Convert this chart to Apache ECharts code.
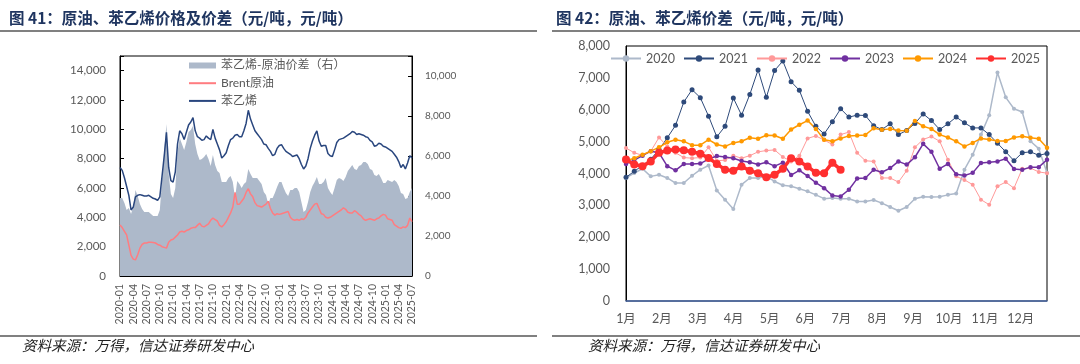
<!DOCTYPE html>
<html><head><meta charset="utf-8">
<script src="https://cdn.jsdelivr.net/npm/echarts@6/dist/echarts.min.js"></script>
<style>html,body{margin:0;padding:0;background:#fff}#c{width:1080px;height:364px}</style>
</head><body><div id="c"></div>
<script>
// ---------- Left chart (图41) : semi-monthly samples 2020-01 .. 2025-07 ----------
const leftTickLabels = ['2020-01','2020-04','2020-07','2020-10','2021-01','2021-04','2021-07','2021-10',
  '2022-01','2022-04','2022-07','2022-10','2023-01','2023-04','2023-07','2023-10',
  '2024-01','2024-04','2024-07','2024-10','2025-01','2025-04','2025-07'];
const styrene = [7400,7200,6700,6100,5500,4500,4700,5400,5500,5550,5500,5450,5450,5500,5400,5300,5250,5150,5400,6800,
  8200,9800,7400,6500,6400,7100,9000,9900,9700,9300,9800,10300,10500,10800,9900,9500,9400,9250,9300,9550,
  9400,9300,10000,9400,9000,8600,8050,8200,8400,8900,9300,9400,9600,9650,9500,9500,9900,10400,11300,10700,
  10300,9900,9700,9500,9300,9000,8950,8700,8500,8200,8300,8700,8900,8950,8700,8500,8400,8300,8150,8200,
  8250,8000,7600,7300,7500,8000,8700,9200,9600,9900,9200,8850,8900,8900,8350,8200,8150,8600,9100,9300,
  9350,9400,9500,9600,9700,9850,9800,9650,9700,9650,9600,9500,9450,9250,9150,8850,8900,9050,9000,8850,
  8800,8700,8600,8500,8300,8100,7800,7400,7600,7300,7700,8200,8050];
const brent = [3480,3300,3050,2800,2100,1400,1150,1100,1450,1900,2150,2250,2250,2300,2300,2280,2250,2150,2100,2000,
  1950,1900,2300,2450,2500,2650,2800,3000,3050,3000,3100,3150,3250,3300,3300,3450,3600,3400,3350,3450,
  3550,3800,3950,3850,3750,3450,3350,3500,3700,4000,4300,4700,5700,4900,4900,5100,5300,5700,5950,5600,
  5400,5000,4800,4750,4700,4800,4900,5100,4600,4300,4150,4250,4200,4250,4300,4350,4400,4000,3850,3800,
  3850,3800,3900,3850,4000,4300,4500,4700,4900,4950,4600,4250,4200,4000,3950,4000,4100,4200,4300,4400,
  4500,4650,4550,4350,4300,4300,4450,4350,4200,4100,3900,3800,3850,3900,3850,3800,3900,3950,4100,4200,
  4150,3900,3850,3800,3500,3400,3300,3250,3350,3300,3450,3950,3700];
const spread = [3900,3900,3650,3300,3400,3100,3500,4300,4000,3600,3350,3200,3200,3200,3100,3000,3000,3000,3300,4800,
  6300,7600,5100,4100,3900,4400,6200,6900,6600,6300,6700,7200,7300,7500,6600,6100,5800,5850,5950,6100,
  5850,5500,6050,5550,5250,5150,4700,4700,4700,4900,5000,4700,3900,4750,4600,4400,4600,4700,5350,5100,
  4900,4900,4900,4750,4600,4200,4050,3600,3900,3900,4150,4450,4700,4700,4400,4150,4000,4300,4300,4400,
  4400,4200,3700,3200,3300,3700,4200,4500,4700,4950,4600,4600,4700,4900,4400,4200,4050,4400,4800,4900,
  4850,4750,4950,5250,5400,5550,5350,5300,5500,5550,5700,5700,5600,5350,5300,5050,5000,5100,4900,4650,
  4650,4800,4750,4700,4800,4700,4500,4150,4100,3850,3900,4200,4400];
const leftCats = [];
for (let i = 0; i < styrene.length; i++) {
  const y = 2020 + Math.floor(i / 24), m = Math.floor((i % 24) / 2) + 1;
  leftCats.push(y + '-' + String(m).padStart(2, '0') + (i % 2 ? '-16' : '-01'));
}

// ---------- Right chart (图42) : weekly values by year ----------
const monthLabels = ['1月','2月','3月','4月','5月','6月','7月','8月','9月','10月','11月','12月'];
const y2020 = [3860,4015,4150,3910,3960,3860,3700,3700,3930,4120,4250,3470,3180,2890,3650,3860,3860,3910,3750,3630,
  3600,3520,3440,3330,3210,3230,3210,3210,3120,3120,3170,3070,2950,2830,2950,3210,3270,3260,3270,3330,
  3370,4120,4590,5220,5830,7170,6390,6030,5930,5010,4780,4020];
const y2021 = [3880,4070,4250,4450,4750,5120,5510,6240,6630,6380,5800,5150,5480,6370,5830,6480,7250,6390,7230,7530,
  6880,6610,5950,5480,5240,5620,6030,5770,5830,5820,5500,5380,5560,5220,5350,5570,5870,5660,5380,5560,
  5770,5590,5430,5430,5220,4950,4680,4400,4650,4680,4570,4630];
const y2022 = [4800,4650,4570,4700,5130,4850,4650,4500,4480,4500,4820,4400,4420,4560,4480,4560,4680,4720,4740,4520,
  4380,4560,5100,5180,5050,4910,5220,5300,4650,4400,4380,3860,3860,3730,4090,4820,5070,5160,5010,4430,
  3910,3800,3650,3180,3020,3600,3730,3540,4150,4170,4050,4010];
const y2023 = [4300,4420,4560,4700,4650,4230,4100,4300,4300,4310,4450,4550,4520,4480,4390,4350,4280,4350,4230,4340,
  3950,4100,3920,3710,3540,3310,3280,3490,3840,3860,4120,4040,4170,4380,4280,4510,4930,4680,4150,4300,
  3980,3940,4020,4330,4350,4380,4460,4140,4120,4200,4200,4430];
const y2024 = [4400,4480,4590,4700,4820,4980,5060,5010,4890,4890,5060,4910,4850,4960,5010,5120,5090,5200,5190,5090,
  5380,5530,5660,5400,5060,5010,5100,5180,5190,5210,5420,5370,5400,5350,5340,5650,5480,5400,5220,5130,
  5010,4850,4960,5100,5070,5020,5020,5130,5170,5120,5090,4810];
const y2025 = [4440,4280,4230,4380,4650,4720,4750,4730,4680,4620,4490,4300,4120,4090,4220,4090,4010,3880,3960,4150,
  4480,4380,4220,4020,4010,4340,4120];
const yearNames = ['2020','2021','2022','2023','2024','2025'];

const MONTH_W = 365.25 / 7 / 12; // weeks per month on the weekly axis
const toPairs = arr => arr.map((v, i) => [i, v]);
const fmt = v => String(v).replace(/\B(?=(\d{3})+(?!\d))/g, ',');

const NUM = 'Lato, "Liberation Sans", "Noto Sans CJK SC", sans-serif';
const CJK = '"Noto Sans CJK SC", sans-serif';
const GREY = '#595959';
// plain line legend icon (thin bar centred in a 27x6 box)
const LINE_ICON = 'path://M0,0L0,0M0,2L27,2L27,4L0,4ZM0,6L0,6';

function yearSeries(name, data, color, width, size) {
  return {
    name, type: 'line', xAxisIndex: 1, yAxisIndex: 2, data: toPairs(data),
    symbol: 'circle', symbolSize: size, showSymbol: true,
    lineStyle: { color, width }, itemStyle: { color }, emphasis: { disabled: true }
  };
}

const chart = echarts.init(document.getElementById('c'));
chart.setOption({
  animation: false,
  textStyle: { fontFamily: NUM },
  grid: [
    { left: 120, top: 56, width: 292, height: 220, show: true, borderColor: '#000', borderWidth: 1, containLabel: false },
    { left: 626, top: 46, width: 421, height: 255, show: true, borderColor: '#000', borderWidth: 1, containLabel: false }
  ],
  xAxis: [
    { type: 'category', gridIndex: 0, data: leftCats, boundaryGap: false,
      axisLine: { lineStyle: { color: '#000', width: 1 } },
      axisTick: { show: true, inside: true, interval: 5, length: 4, lineStyle: { color: '#000' } },
      axisLabel: { interval: 5, rotate: 90, fontSize: 10.5, color: GREY, margin: 8, fontFamily: NUM,
        formatter: (v, idx) => (idx % 6 === 0 ? leftTickLabels[idx / 6] : '') },
      splitLine: { show: false } },
    { type: 'value', gridIndex: 1, min: 0, max: 51, interval: MONTH_W,
      axisLine: { lineStyle: { color: '#4a6aa8', width: 1.5 } },
      axisTick: { show: false }, splitLine: { show: false }, minorTick: { show: false },
      axisLabel: { fontSize: 12.5, color: GREY, margin: 12, fontFamily: NUM, showMinLabel: true, showMaxLabel: true,
        formatter: v => { const k = Math.round(v / MONTH_W); return (k < 12 && Math.abs(v - k * MONTH_W) < 0.01) ? monthLabels[k] : ''; } } }
  ],
  yAxis: [
    { type: 'value', gridIndex: 0, min: 0, max: 15000, interval: 2000,
      axisLine: { show: true, lineStyle: { color: '#000' } },
      axisTick: { show: true, inside: true, length: 4, lineStyle: { color: '#000' } },
      splitLine: { show: false },
      axisLabel: { fontSize: 11.5, color: GREY, margin: 14, fontFamily: NUM, formatter: v => (v > 14000 ? '' : fmt(v)) } },
    { type: 'value', gridIndex: 0, position: 'right', min: 0, max: 11000, interval: 2000,
      axisLine: { show: true, lineStyle: { color: '#000' } },
      axisTick: { show: true, inside: true, length: 4, lineStyle: { color: '#000' } },
      splitLine: { show: false },
      axisLabel: { fontSize: 10, color: GREY, margin: 13, fontFamily: NUM, formatter: v => (v > 10000 ? '' : fmt(v)) } },
    { type: 'value', gridIndex: 1, min: 0, max: 8000, interval: 1000,
      axisLine: { show: true, lineStyle: { color: '#000' } },
      axisTick: { show: false }, splitLine: { show: false },
      axisLabel: { fontSize: 12.5, color: GREY, margin: 16, fontFamily: NUM, formatter: v => fmt(v) } }
  ],
  legend: [
    { orient: 'vertical', left: 189, top: 58.5, padding: 0, itemWidth: 27, itemHeight: 6, itemGap: 3.7,
      textStyle: { fontSize: 12, color: GREY, fontFamily: NUM, lineHeight: 14 },
      data: [{ name: '苯乙烯-原油价差（右）', icon: 'rect' },
             { name: 'Brent原油', icon: LINE_ICON, itemStyle: { color: '#ff7c80' } },
             { name: '苯乙烯', icon: LINE_ICON, itemStyle: { color: '#29467e' } }] },
    { orient: 'horizontal', left: 610, top: 51, padding: 0, itemWidth: 30, itemHeight: 8, itemGap: 8,
      textStyle: { fontSize: 12.5, color: GREY, fontFamily: NUM, lineHeight: 15 },
      data: yearNames }
  ],
  series: [
    { name: '苯乙烯-原油价差（右）', type: 'line', xAxisIndex: 0, yAxisIndex: 1, data: spread,
      symbol: 'none', lineStyle: { width: 0, color: '#adb9ca' }, itemStyle: { color: '#adb9ca' },
      areaStyle: { color: '#adb9ca', opacity: 1 }, z: 1, emphasis: { disabled: true } },
    { name: 'Brent原油', type: 'line', xAxisIndex: 0, yAxisIndex: 0, data: brent,
      symbol: 'none', lineStyle: { width: 1.5, color: '#ff7c80' }, itemStyle: { color: '#ff7c80' }, z: 2, emphasis: { disabled: true } },
    { name: '苯乙烯', type: 'line', xAxisIndex: 0, yAxisIndex: 0, data: styrene,
      symbol: 'none', lineStyle: { width: 1.5, color: '#29467e' }, itemStyle: { color: '#29467e' }, z: 3, emphasis: { disabled: true } },
    yearSeries('2020', y2020, '#adb9ca', 1.5, 4),
    yearSeries('2021', y2021, '#2e4a7a', 1, 5),
    yearSeries('2022', y2022, '#ff9999', 1, 4),
    yearSeries('2023', y2023, '#7030a0', 1.5, 4.5),
    yearSeries('2024', y2024, '#ff9900', 1.5, 4.5),
    yearSeries('2025', y2025, '#ff2f2f', 3.5, 8)
  ],
  graphic: [
    { type: 'text', left: 9, top: 10, style: { text: '图 41：原油、苯乙烯价格及价差（元/吨，元/吨）', font: 'bold 15.5px ' + CJK, fill: '#1f3560' } },
    { type: 'text', left: 556, top: 10, style: { text: '图 42：原油、苯乙烯价差（元/吨，元/吨）', font: 'bold 15.5px ' + CJK, fill: '#1f3560' } },
    { type: 'line', shape: { x1: 0, y1: 31, x2: 537, y2: 31 }, style: { stroke: '#808080', lineWidth: 2 } },
    { type: 'line', shape: { x1: 552, y1: 31, x2: 1080, y2: 31 }, style: { stroke: '#808080', lineWidth: 2 } },
    { type: 'line', shape: { x1: 0, y1: 336, x2: 537, y2: 336 }, style: { stroke: '#808080', lineWidth: 2 } },
    { type: 'line', shape: { x1: 552, y1: 336, x2: 1080, y2: 336 }, style: { stroke: '#808080', lineWidth: 2 } },
    { type: 'text', left: 22, top: 338, style: { text: '资料来源：万得，信达证券研发中心', font: 'italic 14.5px ' + CJK, fill: '#222' } },
    { type: 'text', left: 588, top: 338, style: { text: '资料来源：万得，信达证券研发中心', font: 'italic 14.5px ' + CJK, fill: '#222' } }
  ]
});
</script>
</body></html>
